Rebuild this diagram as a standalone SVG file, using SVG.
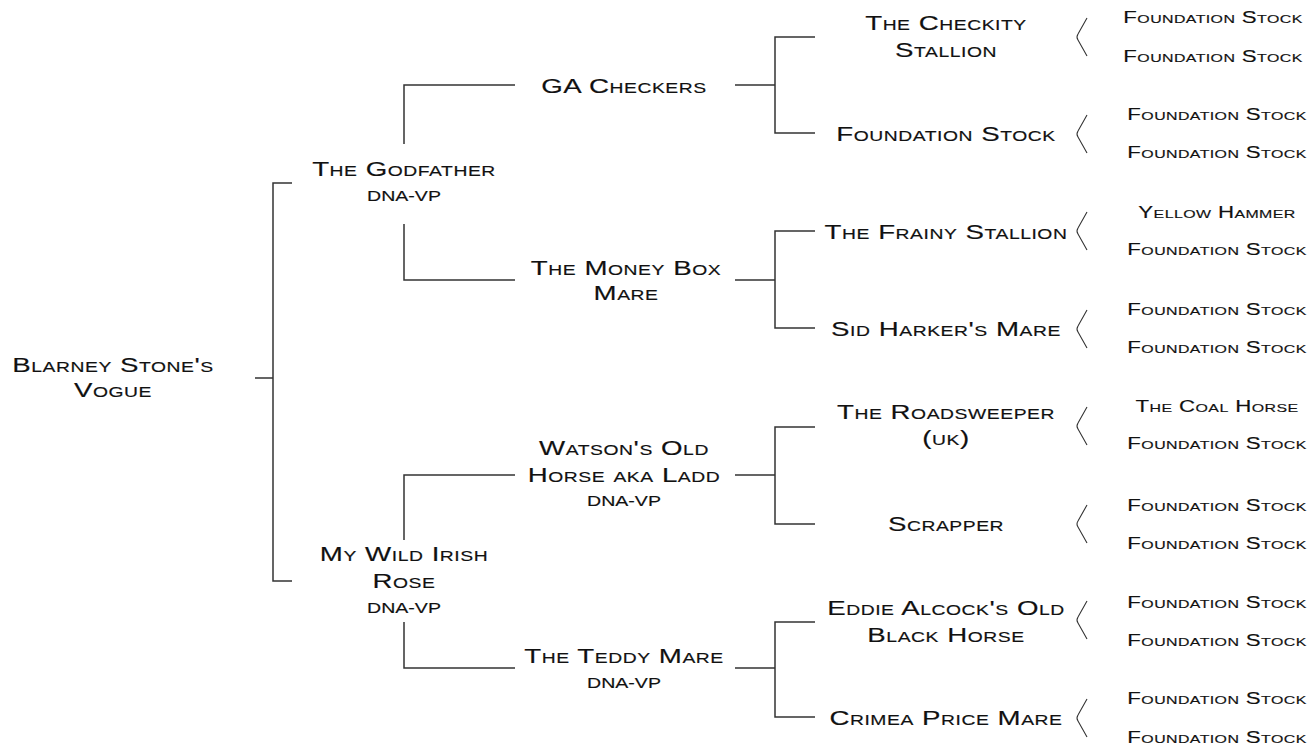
<svg xmlns="http://www.w3.org/2000/svg" width="1312" height="748" viewBox="0 0 1312 748">
<style>
.t{font-family:"Liberation Sans",Arial,sans-serif;font-variant:small-caps;fill:#111;stroke:#111;stroke-width:0.15;text-anchor:middle;font-size:20.5px;letter-spacing:0.4px}
.s{font-size:16.5px;letter-spacing:0.3px}
.d{font-size:14.5px;letter-spacing:0}
.c{fill:none;stroke:#333;stroke-width:1.5}
.a{fill:none;stroke:#333;stroke-width:1.1}
</style>
<rect width="1312" height="748" fill="#fff"/>
<g id="connectors">
<path class="c" d="M255,378 H273 M292,183 H273 V581 H292"/>
<path class="c" d="M515,85 H404 V144 M404,224 V280 H515"/>
<path class="c" d="M515,475 H404 V540 M404,622 V668 H515"/>
<path class="c" d="M735,85 H775 M815,37 H775 V133 H815"/>
<path class="c" d="M735,280 H775 M815,231 H775 V328 H815"/>
<path class="c" d="M735,475 H775 M815,427 H775 V524 H815"/>
<path class="c" d="M735,668 H775 M815,622 H775 V717 H815"/>
<path class="a" d="M1087,18 L1078,34 Q1076,37 1078,40 L1087,56"/>
<path class="a" d="M1087,115 L1078,131 Q1076,134 1078,137 L1087,153"/>
<path class="a" d="M1087,212 L1078,228 Q1076,231 1078,234 L1087,250"/>
<path class="a" d="M1087,310 L1078,326 Q1076,329 1078,332 L1087,348"/>
<path class="a" d="M1087,407 L1078,423 Q1076,426 1078,429 L1087,445"/>
<path class="a" d="M1087,505 L1078,521 Q1076,524 1078,527 L1087,543"/>
<path class="a" d="M1087,601 L1078,617 Q1076,620 1078,623 L1087,639"/>
<path class="a" d="M1087,699 L1078,715 Q1076,718 1078,721 L1087,737"/>
</g>
<g id="n-root"><text class="t" transform="translate(113 0) scale(1.35 1)"><tspan x="0" y="372">Blarney Stone's</tspan><tspan x="0" y="397">Vogue</tspan></text></g>
<g id="n-godfather"><text class="t" transform="translate(404 0) scale(1.35 1)"><tspan x="0" y="176">The Godfather</tspan><tspan class="d" x="0" y="201">DNA-VP</tspan></text></g>
<g id="n-mwir"><text class="t" transform="translate(404 0) scale(1.35 1)"><tspan x="0" y="561">My Wild Irish</tspan><tspan x="0" y="588">Rose</tspan><tspan class="d" x="0" y="613">DNA-VP</tspan></text></g>
<g id="n-ga"><text class="t" transform="translate(624 0) scale(1.35 1)"><tspan x="0" y="93">GA Checkers</tspan></text></g>
<g id="n-moneybox"><text class="t" transform="translate(626 0) scale(1.35 1)"><tspan x="0" y="275">The Money Box</tspan><tspan x="0" y="300">Mare</tspan></text></g>
<g id="n-watson"><text class="t" transform="translate(624 0) scale(1.35 1)"><tspan x="0" y="455">Watson's Old</tspan><tspan x="0" y="482">Horse aka Ladd</tspan><tspan class="d" x="0" y="506">DNA-VP</tspan></text></g>
<g id="n-teddy"><text class="t" transform="translate(624 0) scale(1.35 1)"><tspan x="0" y="663">The Teddy Mare</tspan><tspan class="d" x="0" y="688">DNA-VP</tspan></text></g>
<g id="n-checkity"><text class="t" transform="translate(946 0) scale(1.35 1)"><tspan x="0" y="30">The Checkity</tspan><tspan x="0" y="57">Stallion</tspan></text></g>
<g id="n-fs1"><text class="t" transform="translate(946 0) scale(1.35 1)"><tspan x="0" y="141">Foundation Stock</tspan></text></g>
<g id="n-frainy"><text class="t" transform="translate(946 0) scale(1.35 1)"><tspan x="0" y="239">The Frainy Stallion</tspan></text></g>
<g id="n-sid"><text class="t" transform="translate(946 0) scale(1.35 1)"><tspan x="0" y="336">Sid Harker's Mare</tspan></text></g>
<g id="n-roadsweeper"><text class="t" transform="translate(946 0) scale(1.35 1)"><tspan x="0" y="419">The Roadsweeper</tspan><tspan x="0" y="445">(uk)</tspan></text></g>
<g id="n-scrapper"><text class="t" transform="translate(946 0) scale(1.35 1)"><tspan x="0" y="531">Scrapper</tspan></text></g>
<g id="n-eddie"><text class="t" transform="translate(946 0) scale(1.35 1)"><tspan x="0" y="615">Eddie Alcock's Old</tspan><tspan x="0" y="642">Black Horse</tspan></text></g>
<g id="n-crimea"><text class="t" transform="translate(946 0) scale(1.35 1)"><tspan x="0" y="725">Crimea Price Mare</tspan></text></g>
<g id="n-g4-1"><text class="t s" transform="translate(1213 0) scale(1.35 1)"><tspan x="0" y="23">Foundation Stock</tspan><tspan x="0" y="62">Foundation Stock</tspan></text></g>
<g id="n-g4-2"><text class="t s" transform="translate(1217 0) scale(1.35 1)"><tspan x="0" y="120">Foundation Stock</tspan><tspan x="0" y="158">Foundation Stock</tspan></text></g>
<g id="n-g4-3"><text class="t s" transform="translate(1217 0) scale(1.35 1)"><tspan x="0" y="218">Yellow Hammer</tspan><tspan x="0" y="255">Foundation Stock</tspan></text></g>
<g id="n-g4-4"><text class="t s" transform="translate(1217 0) scale(1.35 1)"><tspan x="0" y="315">Foundation Stock</tspan><tspan x="0" y="353">Foundation Stock</tspan></text></g>
<g id="n-g4-5"><text class="t s" transform="translate(1217 0) scale(1.35 1)"><tspan x="0" y="412">The Coal Horse</tspan><tspan x="0" y="449">Foundation Stock</tspan></text></g>
<g id="n-g4-6"><text class="t s" transform="translate(1217 0) scale(1.35 1)"><tspan x="0" y="511">Foundation Stock</tspan><tspan x="0" y="549">Foundation Stock</tspan></text></g>
<g id="n-g4-7"><text class="t s" transform="translate(1217 0) scale(1.35 1)"><tspan x="0" y="608">Foundation Stock</tspan><tspan x="0" y="646">Foundation Stock</tspan></text></g>
<g id="n-g4-8"><text class="t s" transform="translate(1217 0) scale(1.35 1)"><tspan x="0" y="704">Foundation Stock</tspan><tspan x="0" y="743">Foundation Stock</tspan></text></g>
</svg>
